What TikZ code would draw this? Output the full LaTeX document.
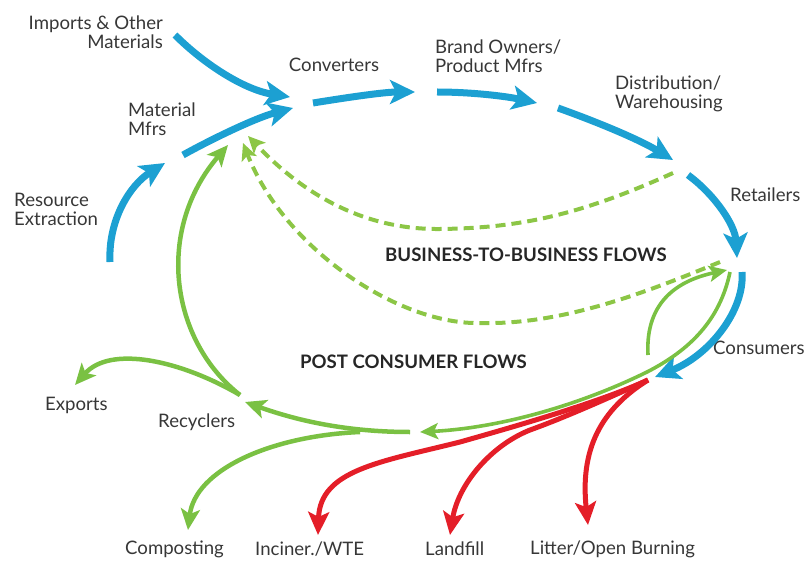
\documentclass[tikz,border=0pt]{standalone}
\usepackage{fontspec}
\setmainfont{Lato}
\usetikzlibrary{arrows.meta}
\definecolor{flowblue}{RGB}{28,160,210}
\definecolor{flowgreen}{RGB}{122,193,67}
\definecolor{dashgreen}{RGB}{140,198,70}
\definecolor{flowred}{RGB}{228,30,40}
\definecolor{labelgray}{RGB}{55,55,55}
\tikzset{
  lbl/.style={inner sep=0pt, text=labelgray, font=\fontsize{18.6}{19}\selectfont},
  ttl/.style={inner sep=0pt, text=black!85, font=\bfseries\fontsize{18.6}{19}\selectfont},
  blueflow/.style={draw=flowblue, line width=7pt, -{Stealth[length=25pt,width=24pt,inset=6pt]}},
  greenflow/.style={draw=flowgreen, line width=4.5pt, -{Stealth[length=21pt,width=19pt,inset=5pt]}},
  greenthin/.style={draw=flowgreen, line width=3.6pt, -{Stealth[length=18pt,width=16pt,inset=4pt]}},
  greendash/.style={draw=dashgreen, line width=4pt, dash pattern=on 10pt off 6pt, -{Stealth[length=17pt,width=16pt,inset=4pt]}},
  redflow/.style={draw=flowred, line width=5pt, -{Stealth[length=23pt,width=21pt,inset=5pt]}}
}
\begin{document}
\begin{tikzpicture}[x=1pt,y=-1pt]
\useasboundingbox (0,0) rectangle (805,561);
% labels
\node[lbl, anchor=east, align=right] (imp) at (163,32) {Imports \& Other\\Materials};
\node[lbl, anchor=west, align=left] (mat) at (128,119) {Material\\Mfrs};
\node[lbl] (conv) at (334,65) {Converters};
\node[lbl, anchor=west, align=left] (brand) at (435,56) {Brand Owners/\\Product Mfrs};
\node[lbl, anchor=west, align=left] (dist) at (615,94) {Distribution/\\Warehousing};
\node[lbl, anchor=west] (ret) at (730,195) {Retailers};
\node[lbl, anchor=west, align=left] (res) at (14,209) {Resource\\Extraction};
\node[ttl, anchor=west] (b2b) at (385,255) {BUSINESS-TO-BUSINESS FLOWS};
\node[ttl, anchor=west] (pcf) at (300,362) {POST CONSUMER FLOWS};
\node[lbl, anchor=west] (cons) at (713,348) {Consumers};
\node[lbl, anchor=west] (exp) at (45,405) {Exports};
\node[lbl, anchor=west] (rec) at (158,422) {Recyclers};
\node[lbl, anchor=west] (comp) at (125,549) {Composting};
\node[lbl, anchor=west] (inc) at (255,549) {Inciner./WTE};
\node[lbl, anchor=west] (land) at (425,549) {Landfill};
\node[lbl, anchor=west] (lit) at (530,549) {Litter/Open Burning};
% coordinates
\coordinate (imS) at (175,35);   \coordinate (imE) at (290,97);
\coordinate (mmS) at (183,155);  \coordinate (mmE) at (293,108);
\coordinate (reS) at (110,262);  \coordinate (reE) at (165,163);
\coordinate (cvS) at (313,103);  \coordinate (cvE) at (415,92);
\coordinate (brS) at (437,92);   \coordinate (brE) at (537,103);
\coordinate (dsS) at (558,108);  \coordinate (dsE) at (673,160);
\coordinate (rtS) at (688,175);  \coordinate (rtE) at (737,258);
\coordinate (csS) at (742,272);  \coordinate (csE) at (655,377);
\coordinate (d1S) at (673,173);  \coordinate (d1E) at (248,136);
\coordinate (d2S) at (720,262);  \coordinate (d2E) at (243,143);
\coordinate (rcy) at (240,395);  \coordinate (ruE) at (228,145);
\coordinate (exE) at (75,385);
\coordinate (pcS) at (730,272);  \coordinate (pcE) at (420,432);
\coordinate (lpS) at (648,355);  \coordinate (lpE) at (727,270);
\coordinate (rcS) at (410,432);  \coordinate (rcE) at (245,402);
\coordinate (cpS) at (360,432);  \coordinate (cpE) at (188,530);
\coordinate (rdS) at (648,380);
\coordinate (inE) at (318,535);  \coordinate (lfE) at (450,535);
\coordinate (ltE) at (588,525);
% blue flows
\draw[blueflow] (imS) .. controls (205,65) and (245,90) .. (imE);
\draw[blueflow] (mmS) .. controls (210,140) and (255,118) .. (mmE);
\draw[blueflow] (reS) .. controls (108,220) and (130,185) .. (reE);
\draw[blueflow] (cvS) .. controls (350,97) and (385,92) .. (cvE);
\draw[blueflow] (brS) .. controls (470,92) and (505,96) .. (brE);
\draw[blueflow] (dsS) .. controls (600,123) and (640,140) .. (dsE);
\draw[blueflow] (rtS) .. controls (715,195) and (735,225) .. (rtE);
\draw[blueflow] (csS) .. controls (745,310) and (710,355) .. (csE);
% dashed business-to-business returns
\draw[greendash] (d1S) .. controls (580,215) and (520,228) .. (440,229) .. controls (350,230) and (290,180) .. (d1E);
\draw[greendash] (d2S) .. controls (640,295) and (560,325) .. (480,323) .. controls (400,325) and (285,250) .. (d2E);
% green post-consumer flows
\draw[greenthin] (pcS) .. controls (720,320) and (690,350) .. (647,372) .. controls (580,405) and (500,428) .. (pcE);
\draw[greenthin] (lpS) .. controls (645,300) and (680,280) .. (lpE);
\draw[greenflow] (rcS) .. controls (340,432) and (290,418) .. (rcE);
\draw[greenflow] (cpS) .. controls (270,436) and (195,470) .. (cpE);
\draw[greenflow] (rcy) .. controls (170,340) and (155,230) .. (ruE);
\draw[greenflow] (rcy) .. controls (180,360) and (110,345) .. (exE);
% red flows
\draw[redflow] (rdS) .. controls (600,402) and (520,425) .. (460,442) .. controls (380,462) and (320,470) .. (inE);
\draw[redflow] (rdS) .. controls (600,402) and (558,420) .. (530,430) .. controls (490,446) and (458,485) .. (lfE);
\draw[redflow] (rdS) .. controls (600,410) and (580,450) .. (ltE);
\end{tikzpicture}
\end{document}
